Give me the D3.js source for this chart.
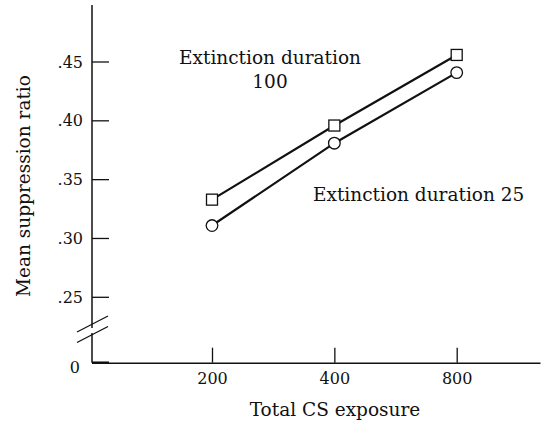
<!DOCTYPE html>
<html>
<head>
<meta charset="utf-8">
<script src="https://cdn.jsdelivr.net/npm/d3@7"></script>
<style>
  body { margin: 0; background: #fff; }
  text { font-family: "DejaVu Serif", serif; fill: #111; }
</style>
</head>
<body>
<div id="vis"></div>
<script>
const FRAME_WIDTH = 548;
const FRAME_HEIGHT = 424;

// data
const exposure = [200, 400, 800];
const duration100 = [0.333, 0.396, 0.456];
const duration25 = [0.311, 0.381, 0.441];
const yTicks = [0.25, 0.30, 0.35, 0.40, 0.45];

const LABEL_SIZE = "18.5px";
const TICK_SIZE = "16px";

const FRAME = d3.select("#vis")
  .append("svg")
    .attr("width", FRAME_WIDTH)
    .attr("height", FRAME_HEIGHT);

// x: doubling steps are evenly spaced, so a base-2 log scale
const X_SCALE = d3.scaleLog().base(2).domain([200, 800]).range([212, 456.7]);
X_SCALE.domain([X_SCALE.invert(92), X_SCALE.invert(540)]).range([92, 540]);

// y: broken axis, .25 - .45 gets the scale, 0 sits below the break
const Y_SCALE = d3.scaleLinear().domain([0.25, 0.45]).range([297.3, 62]);
const ZERO_Y = 362.7;
const AXIS_X = 92;

const fmt = (d) => d3.format(".2f")(d).replace(/^0/, "");

// y axis line
FRAME.append("line")
  .attr("x1", AXIS_X).attr("x2", AXIS_X)
  .attr("y1", 5).attr("y2", ZERO_Y)
  .attr("stroke", "#111").attr("stroke-width", 1.5);

// y ticks (drawn inward)
FRAME.selectAll(".ytick")
  .data(yTicks)
  .enter()
  .append("line")
    .attr("x1", AXIS_X).attr("x2", AXIS_X + 17)
    .attr("y1", (d) => Y_SCALE(d)).attr("y2", (d) => Y_SCALE(d))
    .attr("stroke", "#111").attr("stroke-width", 1.3);

FRAME.selectAll(".ylab")
  .data(yTicks)
  .enter()
  .append("text")
    .attr("x", 83)
    .attr("y", (d) => Y_SCALE(d))
    .attr("dy", "0.35em")
    .attr("text-anchor", "end")
    .attr("font-size", TICK_SIZE)
    .text(fmt);

// zero tick and label
FRAME.append("line")
  .attr("x1", AXIS_X).attr("x2", AXIS_X + 17)
  .attr("y1", ZERO_Y).attr("y2", ZERO_Y)
  .attr("stroke", "#111").attr("stroke-width", 2.5);
FRAME.append("text")
  .attr("x", 80).attr("y", ZERO_Y + 5).attr("dy", "0.35em")
  .attr("text-anchor", "end").attr("font-size", TICK_SIZE)
  .text("0");

// axis break marks
FRAME.append("rect")
  .attr("x", AXIS_X - 2).attr("y", 328).attr("width", 4).attr("height", 5)
  .attr("fill", "#fff");
[0, 10.5].forEach((o) => {
  FRAME.append("line")
    .attr("x1", 77).attr("y1", 332 + o)
    .attr("x2", 108).attr("y2", 316 + o)
    .attr("stroke", "#111").attr("stroke-width", 1.3);
});

// x axis
const xAxis = FRAME.append("g")
  .attr("transform", "translate(0," + ZERO_Y + ")")
  .call(d3.axisBottom(X_SCALE).tickValues(exposure).tickSizeInner(-15).tickSizeOuter(0)
        .tickFormat(d3.format("d")));
xAxis.select(".domain").attr("stroke", "#111").attr("stroke-width", 1.5);
xAxis.selectAll(".tick line").attr("stroke", "#111").attr("stroke-width", 1.3);
xAxis.selectAll(".tick text")
  .attr("y", 16).attr("dy", "0.35em")
  .attr("font-size", TICK_SIZE).attr("font-family", "DejaVu Serif, serif").attr("fill", "#111");

// axis titles
FRAME.append("text")
  .attr("x", 335).attr("y", 410).attr("dy", "0.35em")
  .attr("text-anchor", "middle").attr("font-size", LABEL_SIZE)
  .text("Total CS exposure");

FRAME.append("text")
  .attr("transform", "translate(24,186) rotate(-90)")
  .attr("dy", "0.35em")
  .attr("text-anchor", "middle").attr("font-size", LABEL_SIZE)
  .text("Mean suppression ratio");

// lines
const line = d3.line()
  .x((d, i) => X_SCALE(exposure[i]))
  .y((d) => Y_SCALE(d));

[duration100, duration25].forEach((s) => {
  FRAME.append("path")
    .datum(s)
    .attr("d", line)
    .attr("fill", "none")
    .attr("stroke", "#111")
    .attr("stroke-width", 2.2);
});

// markers
FRAME.selectAll(".sq")
  .data(duration100)
  .enter()
  .append("rect")
    .attr("x", (d, i) => X_SCALE(exposure[i]) - 5.5)
    .attr("y", (d) => Y_SCALE(d) - 5.5)
    .attr("width", 11).attr("height", 11)
    .attr("fill", "#fff").attr("stroke", "#111").attr("stroke-width", 1.3);

FRAME.selectAll(".circ")
  .data(duration25)
  .enter()
  .append("circle")
    .attr("cx", (d, i) => X_SCALE(exposure[i]))
    .attr("cy", (d) => Y_SCALE(d))
    .attr("r", 5.8)
    .attr("fill", "#fff").attr("stroke", "#111").attr("stroke-width", 1.3);

// series labels
FRAME.append("text")
  .attr("x", 270).attr("y", 58).attr("dy", "0.35em")
  .attr("text-anchor", "middle").attr("font-size", LABEL_SIZE)
  .text("Extinction duration");
FRAME.append("text")
  .attr("x", 270).attr("y", 82).attr("dy", "0.35em")
  .attr("text-anchor", "middle").attr("font-size", LABEL_SIZE)
  .text("100");
FRAME.append("text")
  .attr("x", 313).attr("y", 195).attr("dy", "0.35em")
  .attr("font-size", LABEL_SIZE)
  .text("Extinction duration 25");
</script>
</body>
</html>
